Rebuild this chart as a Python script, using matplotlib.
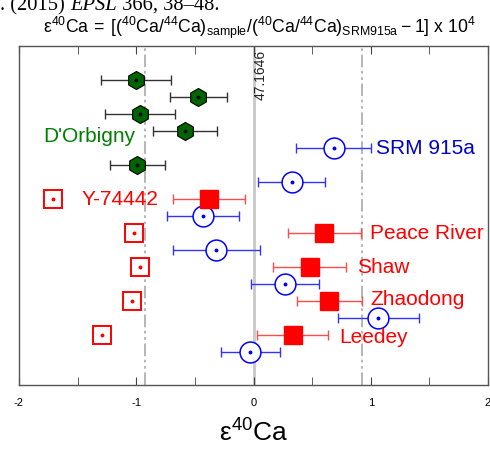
import matplotlib.pyplot as plt
import numpy as np

plt.rcParams['font.family'] = ['Liberation Sans', 'DejaVu Sans']
plt.rcParams['mathtext.fontset'] = 'custom'
plt.rcParams['mathtext.rm'] = 'Liberation Sans'
plt.rcParams['mathtext.it'] = 'Liberation Sans:italic'

# rows counted from the top of the plot
dorb_row = [0, 1, 2, 3, 5]
dorb_x = [-1.00, -0.47, -0.97, -0.585, -0.99]
dorb_err = [0.30, 0.245, 0.30, 0.27, 0.235]

srm_row = [4, 6, 8, 10, 12, 14, 16]
srm_x = [0.684, 0.326, -0.431, -0.317, 0.270, 1.064, -0.026]
srm_err = [0.32, 0.285, 0.31, 0.37, 0.29, 0.345, 0.25]

met_row = [7, 9, 11, 13, 15]
met_x = [-0.38, 0.604, 0.479, 0.647, 0.334]
met_err = [0.305, 0.31, 0.31, 0.28, 0.30]
old_x = [-1.713, -1.018, -0.970, -1.038, -1.288]

W, H = 490, 452
fig = plt.figure(figsize=(W / 100, H / 100), dpi=100)
ax = fig.add_axes([19 / W, 1 - 386 / H, 469 / W, 339 / H])

ax.axvline(0, color='#c8c8c8', lw=2, zorder=0)
for xv in [-0.925, 0.925]:
    ax.axvline(xv, color='#b0b0b0', lw=1.3, dashes=(7, 2, 1.5, 2, 1.5, 2), zorder=0)

ax.errorbar(dorb_x, dorb_row, xerr=dorb_err, fmt='none', ecolor='#333333', elinewidth=1, capsize=3.5)
ax.plot(dorb_x, dorb_row, 'h', ms=13, mfc='#006400', mec='black', mew=0.8, ls='none')
ax.plot(dorb_x, dorb_row, 'o', ms=1.8, color='black', ls='none')

ax.errorbar(srm_x, srm_row, xerr=srm_err, fmt='none', ecolor='#3333ff', elinewidth=1, capsize=3.5)
ax.plot(srm_x, srm_row, 'o', ms=15, mfc='white', mec='#0000ff', mew=1.1, ls='none')
ax.plot(srm_x, srm_row, 'o', ms=1.8, color='#0000ff', ls='none')

ax.errorbar(met_x, met_row, xerr=met_err, fmt='none', ecolor='#ff4d4d', elinewidth=1, capsize=3.5)
ax.plot(met_x, met_row, 's', ms=13, color='#ff0000', ls='none')

ax.plot(old_x, met_row, 's', ms=13, mfc='white', mec='#ff0000', mew=1.4, ls='none')
ax.plot(old_x, met_row, 'o', ms=1.8, color='#ff0000', ls='none')

ax.text(-1.796, 3.3, "D'Orbigny", color='#008000', fontsize=15, va='center', ha='left')
ax.text(1.047, 4, 'SRM 915a', color='#0000c8', fontsize=15, va='center', ha='left')
ax.text(-1.464, 7, 'Y-74442', color='#ff0000', fontsize=15, va='center', ha='left')
ax.text(0.996, 9, 'Peace River', color='#ff0000', fontsize=15, va='center', ha='left')
ax.text(0.885, 11, 'Shaw', color='#ff0000', fontsize=15, va='center', ha='left')
ax.text(0.996, 12.85, 'Zhaodong', color='#ff0000', fontsize=15, va='center', ha='left')
ax.text(0.732, 15.1, 'Leedey', color='#ff0000', fontsize=15, va='center', ha='left')
ax.text(0.065, -1.8, '47.1646', rotation=90, fontsize=10, ha='center', va='top', color='#222222')

ax.set_xlim(-2, 2)
ax.set_ylim(17.96, -1.98)
ax.set_xticks([-2, -1, 0, 1, 2])
ax.set_xticklabels(['-2', '-1', '0', '1', '2'])
ax.set_xticks([-1.5, -0.5, 0.5, 1.5], minor=True)
ax.set_yticks([])
ax.tick_params(axis='x', which='both', direction='in', top=True, labelsize=8, colors='#444444',
               labelcolor='black', pad=9, length=6)
for s in ax.spines.values():
    s.set_color('#555555')
    s.set_linewidth(1)

ax.set_xlabel(r'$\mathregular{ε^{40}Ca}$', fontsize=19, labelpad=8)

fig.text(0.53, 1 - 33 / H,
         r'$\mathregular{ε^{40}Ca\:=\:[(^{40}Ca/^{44}Ca)_{sample}/(^{40}Ca/^{44}Ca)_{SRM915a}\:-\:1]\ x\ 10^{4}}$',
         ha='center', va='baseline', fontsize=12.7)

# line of the caption above, cut off by the top edge
renderer = fig.canvas.get_renderer()
x0 = 0.0
for part, st in [('. (2015) ', 'normal'), ('EPSL', 'italic'), (' 366, 38\u201348.', 'normal')]:
    t = fig.text(x0, 1 - 10 / H, part, family='Liberation Serif', style=st, fontsize=14.8,
                 va='baseline', ha='left')
    x0 += t.get_window_extent(renderer).width / W

fig.savefig('out.png', dpi=100)
